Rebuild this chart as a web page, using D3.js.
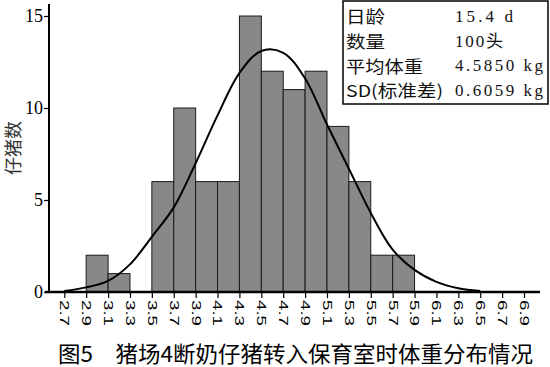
<!DOCTYPE html>
<html><head><meta charset="utf-8">
<script src="https://cdn.jsdelivr.net/npm/d3@7"></script>
<style>
html,body{margin:0;padding:0;background:#fff;}
svg{display:block;}
</style></head>
<body>
<svg id="c" width="550" height="367"></svg>
<script>
// ---- data ----
const binStarts = [2.9,3.1,3.3,3.5,3.7,3.9,4.1,4.3,4.5,4.7,4.9,5.1,5.3,5.5,5.7];
const binCounts = [2,1,0,6,10,6,6,15,12,11,12,9,6,2,2];
const binWidth = 0.2;
const xTicks = [2.7,2.9,3.1,3.3,3.5,3.7,3.9,4.1,4.3,4.5,4.7,4.9,5.1,5.3,5.5,5.7,5.9,6.1,6.3,6.5,6.7,6.9];
const yTicks = [0,5,10,15];
const curveX = [2.7,2.9,3.1,3.3,3.5,3.7,3.9,4.1,4.3,4.5,4.7,4.9,5.1,5.3,5.5,5.7,5.9,6.1,6.3,6.5];
const curveY = [0.05,0.25,0.6,1.5,3.0,4.6,7.0,9.6,11.9,13.1,13.0,11.6,9.1,6.7,4.3,2.3,1.2,0.55,0.2,0.05];
const legendLabels = ["日龄","数量","平均体重","SD(标准差)"];
const legendValues = ["15.4 d","100头","4.5850 kg","0.6059 kg"];
const yTitle = "仔猪数";
const caption = "图5　猪场4断奶仔猪转入保育室时体重分布情况";

// ---- drawing ----
const svg = d3.select("#c");
const x = d3.scaleLinear().domain([2.7,6.9]).range([64.3,524]);
const y = d3.scaleLinear().domain([0,15]).range([292,16]);

// bars
svg.append("g").selectAll("rect").data(binStarts.map((s,i)=>({s,c:binCounts[i]})))
  .join("rect")
  .attr("x",d=>x(d.s)).attr("width",d=>x(d.s+binWidth)-x(d.s))
  .attr("y",d=>y(d.c)).attr("height",d=>y(0)-y(d.c))
  .attr("fill","#888").attr("stroke","#1a1a1a").attr("stroke-width",1);

// normal curve
const line = d3.line().x((d,i)=>x(curveX[i])).y(d=>y(d)).curve(d3.curveCatmullRom);
svg.append("path").attr("d",line(curveY)).attr("fill","none")
  .attr("stroke","#000").attr("stroke-width",2);

// x axis
const xg = svg.append("g").attr("transform","translate(0,292)");
xg.call(d3.axisBottom(x).tickValues(xTicks).tickSize(6).tickSizeOuter(0).tickFormat(d3.format(".1f")));
xg.select(".domain").remove();
xg.selectAll(".tick line").attr("stroke","#000").attr("stroke-width",1.2);
xg.selectAll(".tick text")
  .attr("transform","translate(0,8) rotate(90)")
  .attr("x",0).attr("y",0).attr("dy","0.35em")
  .attr("text-anchor","start")
  .attr("font-family","Liberation Sans, Arial, sans-serif")
  .attr("font-size",13).attr("fill","#000")
  .attr("textLength",26).attr("lengthAdjust","spacingAndGlyphs");
svg.append("line").attr("x1",45).attr("x2",540).attr("y1",292).attr("y2",292)
  .attr("stroke","#000").attr("stroke-width",2.5);

// y axis
const yg = svg.append("g").attr("transform","translate(49,0)");
yg.call(d3.axisLeft(y).tickValues(yTicks).tickSize(5).tickSizeOuter(0));
yg.select(".domain").remove();
yg.selectAll(".tick line").attr("stroke","#000").attr("stroke-width",1.2);
yg.selectAll(".tick text").attr("x",-6)
  .attr("font-family","Liberation Serif, Times New Roman, serif")
  .attr("font-size",18).attr("fill","#000");
svg.append("line").attr("x1",49).attr("x2",49).attr("y1",4).attr("y2",293)
  .attr("stroke","#000").attr("stroke-width",2);

// y title
svg.append("text").attr("transform","translate(12,148) rotate(-90)")
  .attr("text-anchor","middle").attr("dominant-baseline","central")
  .attr("font-family","Noto Sans CJK SC").attr("font-size",18).attr("fill","#333")
  .text(yTitle);

// legend box
svg.append("rect").attr("x",343).attr("y",1).attr("width",205).attr("height",103)
  .attr("fill","#fff").attr("stroke","#000").attr("stroke-width",1.5);
const rowY = [16,41,65.5,90];
const labelW = [39,39,77,97];
const valueW = [58,48,88,88];
legendLabels.forEach((t,i)=>{
  svg.append("text").attr("x",346).attr("y",rowY[i]).attr("dominant-baseline","central")
    .attr("font-family","Noto Sans CJK SC").attr("font-size",16.5).attr("fill","#111")
    .attr("textLength",labelW[i]).attr("lengthAdjust","spacingAndGlyphs").text(t);
  svg.append("text").attr("x",455).attr("y",rowY[i]).attr("dominant-baseline","central")
    .attr("font-family","Liberation Serif, Noto Sans CJK SC").attr("font-size",17).attr("fill","#111")
    .attr("textLength",valueW[i]).attr("lengthAdjust","spacing").text(legendValues[i]);
});

// caption
svg.append("text").attr("x",58).attr("y",362)
  .attr("font-family","Noto Sans CJK SC").attr("font-size",22).attr("fill","#000")
  .attr("textLength",475).attr("lengthAdjust","spacingAndGlyphs").text(caption);
</script>
</body></html>
